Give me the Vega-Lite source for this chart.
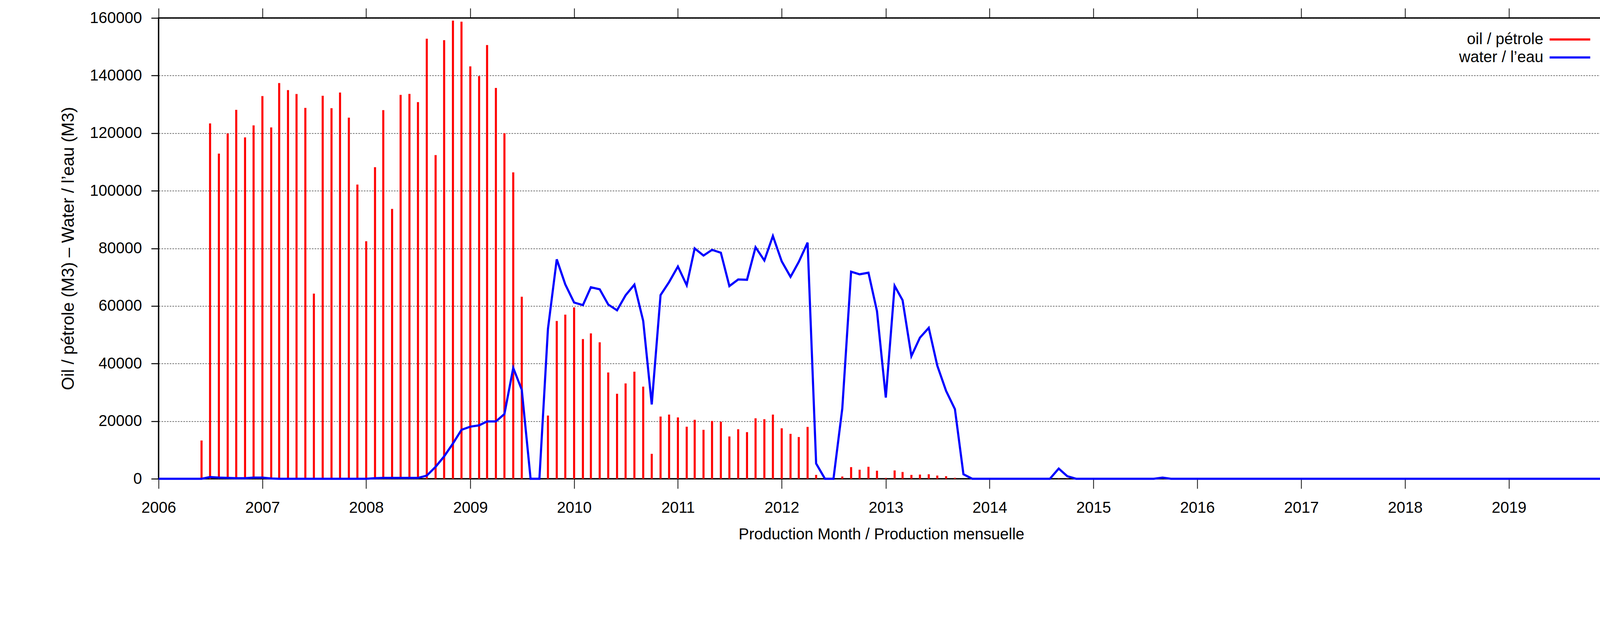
{
  "$schema": "https://vega.github.io/schema/vega-lite/v6.json",
  "width": 3700,
  "height": 1179,
  "autosize": {"type": "none"},
  "padding": {"left": 406, "top": 46, "right": 82, "bottom": 369},
  "background": "white",
  "data": {
    "format": {"parse": {"m": "date:'%Y-%m'"}},
    "values": [
      {"m": "2006-01", "oil": 0, "water": 0},
      {"m": "2006-02", "oil": 0, "water": 0},
      {"m": "2006-03", "oil": 0, "water": 0},
      {"m": "2006-04", "oil": 0, "water": 0},
      {"m": "2006-05", "oil": 0, "water": 0},
      {"m": "2006-06", "oil": 13300, "water": 0},
      {"m": "2006-07", "oil": 123400, "water": 600},
      {"m": "2006-08", "oil": 112900, "water": 400},
      {"m": "2006-09", "oil": 119900, "water": 300},
      {"m": "2006-10", "oil": 128100, "water": 200},
      {"m": "2006-11", "oil": 118550, "water": 200},
      {"m": "2006-12", "oil": 122700, "water": 400},
      {"m": "2007-01", "oil": 132900, "water": 400},
      {"m": "2007-02", "oil": 122000, "water": 100},
      {"m": "2007-03", "oil": 137400, "water": 0},
      {"m": "2007-04", "oil": 134960, "water": 0},
      {"m": "2007-05", "oil": 133600, "water": 0},
      {"m": "2007-06", "oil": 128800, "water": 0},
      {"m": "2007-07", "oil": 64300, "water": 0},
      {"m": "2007-08", "oil": 133000, "water": 0},
      {"m": "2007-09", "oil": 128700, "water": 0},
      {"m": "2007-10", "oil": 134100, "water": 0},
      {"m": "2007-11", "oil": 125400, "water": 0},
      {"m": "2007-12", "oil": 102150, "water": 0},
      {"m": "2008-01", "oil": 82460, "water": 0},
      {"m": "2008-02", "oil": 108200, "water": 200},
      {"m": "2008-03", "oil": 128000, "water": 300},
      {"m": "2008-04", "oil": 93700, "water": 300},
      {"m": "2008-05", "oil": 133300, "water": 300},
      {"m": "2008-06", "oil": 133650, "water": 300},
      {"m": "2008-07", "oil": 130800, "water": 300},
      {"m": "2008-08", "oil": 152800, "water": 1100},
      {"m": "2008-09", "oil": 112400, "water": 4160},
      {"m": "2008-10", "oil": 152300, "water": 7760},
      {"m": "2008-11", "oil": 159100, "water": 12260},
      {"m": "2008-12", "oil": 158700, "water": 17000},
      {"m": "2009-01", "oil": 143200, "water": 18100},
      {"m": "2009-02", "oil": 139800, "water": 18560},
      {"m": "2009-03", "oil": 150600, "water": 19900},
      {"m": "2009-04", "oil": 135700, "water": 19900},
      {"m": "2009-05", "oil": 120000, "water": 22500},
      {"m": "2009-06", "oil": 106400, "water": 38500},
      {"m": "2009-07", "oil": 63200, "water": 30900},
      {"m": "2009-08", "oil": 0, "water": 0},
      {"m": "2009-09", "oil": 0, "water": 0},
      {"m": "2009-10", "oil": 21940, "water": 52000},
      {"m": "2009-11", "oil": 54800, "water": 76200},
      {"m": "2009-12", "oil": 57000, "water": 67500},
      {"m": "2010-01", "oil": 59500, "water": 61200},
      {"m": "2010-02", "oil": 48500, "water": 60300},
      {"m": "2010-03", "oil": 50500, "water": 66500},
      {"m": "2010-04", "oil": 47400, "water": 65800},
      {"m": "2010-05", "oil": 36900, "water": 60500},
      {"m": "2010-06", "oil": 29500, "water": 58500},
      {"m": "2010-07", "oil": 33100, "water": 63700},
      {"m": "2010-08", "oil": 37200, "water": 67400},
      {"m": "2010-09", "oil": 32000, "water": 54800},
      {"m": "2010-10", "oil": 8660, "water": 25800},
      {"m": "2010-11", "oil": 21600, "water": 63800},
      {"m": "2010-12", "oil": 22300, "water": 68300},
      {"m": "2011-01", "oil": 21300, "water": 73700},
      {"m": "2011-02", "oil": 18100, "water": 67200},
      {"m": "2011-03", "oil": 20500, "water": 80000},
      {"m": "2011-04", "oil": 17000, "water": 77500},
      {"m": "2011-05", "oil": 20100, "water": 79500},
      {"m": "2011-06", "oil": 19800, "water": 78500},
      {"m": "2011-07", "oil": 14700, "water": 66900},
      {"m": "2011-08", "oil": 17200, "water": 69200},
      {"m": "2011-09", "oil": 16200, "water": 69100},
      {"m": "2011-10", "oil": 21000, "water": 80400},
      {"m": "2011-11", "oil": 20700, "water": 75800},
      {"m": "2011-12", "oil": 22300, "water": 84300},
      {"m": "2012-01", "oil": 17550, "water": 75500},
      {"m": "2012-02", "oil": 15600, "water": 70100},
      {"m": "2012-03", "oil": 14500, "water": 75300},
      {"m": "2012-04", "oil": 18000, "water": 82000},
      {"m": "2012-05", "oil": 1350, "water": 5300},
      {"m": "2012-06", "oil": 0, "water": 0},
      {"m": "2012-07", "oil": 0, "water": 0},
      {"m": "2012-08", "oil": 790, "water": 24400},
      {"m": "2012-09", "oil": 4050, "water": 71900},
      {"m": "2012-10", "oil": 3150, "water": 71000},
      {"m": "2012-11", "oil": 4160, "water": 71550},
      {"m": "2012-12", "oil": 2800, "water": 58200},
      {"m": "2013-01", "oil": 300, "water": 28200},
      {"m": "2013-02", "oil": 2900, "water": 67000},
      {"m": "2013-03", "oil": 2360, "water": 62000},
      {"m": "2013-04", "oil": 1350, "water": 42600},
      {"m": "2013-05", "oil": 1460, "water": 49000},
      {"m": "2013-06", "oil": 1575, "water": 52400},
      {"m": "2013-07", "oil": 1125, "water": 39300},
      {"m": "2013-08", "oil": 900, "water": 30500},
      {"m": "2013-09", "oil": 340, "water": 24200},
      {"m": "2013-10", "oil": 0, "water": 1575},
      {"m": "2013-11", "oil": 0, "water": 0},
      {"m": "2013-12", "oil": 0, "water": 0},
      {"m": "2014-01", "oil": 0, "water": 0},
      {"m": "2014-02", "oil": 0, "water": 0},
      {"m": "2014-03", "oil": 0, "water": 0},
      {"m": "2014-04", "oil": 0, "water": 0},
      {"m": "2014-05", "oil": 0, "water": 0},
      {"m": "2014-06", "oil": 0, "water": 0},
      {"m": "2014-07", "oil": 0, "water": 0},
      {"m": "2014-08", "oil": 0, "water": 0},
      {"m": "2014-09", "oil": 100, "water": 3540},
      {"m": "2014-10", "oil": 80, "water": 900},
      {"m": "2014-11", "oil": 0, "water": 0},
      {"m": "2014-12", "oil": 0, "water": 0},
      {"m": "2015-01", "oil": 0, "water": 0},
      {"m": "2015-02", "oil": 0, "water": 0},
      {"m": "2015-03", "oil": 0, "water": 0},
      {"m": "2015-04", "oil": 0, "water": 0},
      {"m": "2015-05", "oil": 0, "water": 0},
      {"m": "2015-06", "oil": 0, "water": 0},
      {"m": "2015-07", "oil": 0, "water": 0},
      {"m": "2015-08", "oil": 0, "water": 0},
      {"m": "2015-09", "oil": 0, "water": 400},
      {"m": "2015-10", "oil": 0, "water": 0},
      {"m": "2015-11", "oil": 0, "water": 0},
      {"m": "2015-12", "oil": 0, "water": 0},
      {"m": "2016-01", "oil": 0, "water": 0},
      {"m": "2016-02", "oil": 0, "water": 0},
      {"m": "2016-03", "oil": 0, "water": 0},
      {"m": "2016-04", "oil": 0, "water": 0},
      {"m": "2016-05", "oil": 0, "water": 0},
      {"m": "2016-06", "oil": 0, "water": 0},
      {"m": "2016-07", "oil": 0, "water": 0},
      {"m": "2016-08", "oil": 0, "water": 0},
      {"m": "2016-09", "oil": 0, "water": 0},
      {"m": "2016-10", "oil": 0, "water": 0},
      {"m": "2016-11", "oil": 0, "water": 0},
      {"m": "2016-12", "oil": 0, "water": 0},
      {"m": "2017-01", "oil": 0, "water": 0},
      {"m": "2017-02", "oil": 0, "water": 0},
      {"m": "2017-03", "oil": 0, "water": 0},
      {"m": "2017-04", "oil": 0, "water": 0},
      {"m": "2017-05", "oil": 0, "water": 0},
      {"m": "2017-06", "oil": 0, "water": 0},
      {"m": "2017-07", "oil": 0, "water": 0},
      {"m": "2017-08", "oil": 0, "water": 0},
      {"m": "2017-09", "oil": 0, "water": 0},
      {"m": "2017-10", "oil": 0, "water": 0},
      {"m": "2017-11", "oil": 0, "water": 0},
      {"m": "2017-12", "oil": 0, "water": 0},
      {"m": "2018-01", "oil": 0, "water": 0},
      {"m": "2018-02", "oil": 0, "water": 0},
      {"m": "2018-03", "oil": 0, "water": 0},
      {"m": "2018-04", "oil": 0, "water": 0},
      {"m": "2018-05", "oil": 0, "water": 0},
      {"m": "2018-06", "oil": 0, "water": 0},
      {"m": "2018-07", "oil": 0, "water": 0},
      {"m": "2018-08", "oil": 0, "water": 0},
      {"m": "2018-09", "oil": 0, "water": 0},
      {"m": "2018-10", "oil": 0, "water": 0},
      {"m": "2018-11", "oil": 0, "water": 0},
      {"m": "2018-12", "oil": 0, "water": 0},
      {"m": "2019-01", "oil": 0, "water": 0},
      {"m": "2019-02", "oil": 0, "water": 0},
      {"m": "2019-03", "oil": 0, "water": 0},
      {"m": "2019-04", "oil": 0, "water": 0},
      {"m": "2019-05", "oil": 0, "water": 0},
      {"m": "2019-06", "oil": 0, "water": 0},
      {"m": "2019-07", "oil": 0, "water": 0},
      {"m": "2019-08", "oil": 0, "water": 0},
      {"m": "2019-09", "oil": 0, "water": 0},
      {"m": "2019-10", "oil": 0, "water": 0},
      {"m": "2019-11", "oil": 0, "water": 0},
      {"m": "2019-12", "oil": 0, "water": 0}
    ]
  },
  "layer": [
    {
      "mark": {"type": "rule", "strokeWidth": 5.3, "strokeCap": "butt"},
      "encoding": {
        "x": {
          "field": "m",
          "type": "temporal",
          "scale": {
            "domain": [
              {"year": 2006, "month": 1, "date": 1},
              {"year": 2019, "month": 12, "date": 1}
            ],
            "nice": false
          },
          "axis": {
            "orient": "bottom",
            "title": "Production Month / Production mensuelle",
            "format": "%Y",
            "tickCount": {"interval": "year", "step": 1},
            "labelPadding": 29,
            "titlePadding": 28,
            "titleFontSize": 40,
            "grid": false
          }
        },
        "y": {
          "field": "oil",
          "type": "quantitative",
          "scale": {"domain": [0, 160000], "nice": false},
          "axis": {
            "orient": "left",
            "title": "Oil / pétrole (M3) – Water / l’eau (M3)",
            "format": "d",
            "values": [0, 20000, 40000, 60000, 80000, 100000, 120000, 140000, 160000],
            "labelPadding": 24,
            "titlePadding": 32,
            "titleFontSize": 44,
            "grid": true,
            "gridColor": "#000",
            "gridOpacity": 0.75,
            "gridWidth": 1.3,
            "gridDash": [4, 3]
          }
        },
        "y2": {"datum": 0},
        "color": {
          "datum": "oil / pétrole",
          "scale": {
            "domain": ["oil / pétrole", "water / l’eau"],
            "range": ["#ff0000", "#0000ff"]
          },
          "legend": {
            "orient": "none",
            "legendX": 3593,
            "legendY": 35,
            "title": null,
            "padding": 0,
            "rowPadding": 6,
            "symbolType": "M-4,0H4",
            "symbolSize": 676,
            "symbolStrokeWidth": 5.5,
            "labelAlign": "right",
            "labelOffset": -88,
            "labelFont": "Liberation Sans",
            "labelFontSize": 40,
            "labelColor": "#000",
            "labelLimit": 1000,
            "encode": {
              "symbols": {
                "update": {
                  "stroke": {"scale": "color", "field": "value"},
                  "fill": {"value": "transparent"},
                  "strokeWidth": {"value": 5.5}
                }
              }
            }
          }
        }
      }
    },
    {
      "mark": {"type": "line", "strokeWidth": 5.5},
      "encoding": {
        "x": {
          "field": "m",
          "type": "temporal",
          "axis": {
            "orient": "top",
            "title": null,
            "labels": false,
            "tickCount": {"interval": "year", "step": 1},
            "grid": false
          }
        },
        "y": {
          "field": "water",
          "type": "quantitative",
          "scale": {"domain": [0, 160000], "nice": false},
          "axis": {
            "orient": "right",
            "title": null,
            "labels": false,
            "values": [0, 20000, 40000, 60000, 80000, 100000, 120000, 140000, 160000],
            "grid": false
          }
        },
        "color": {"datum": "water / l’eau"}
      }
    }
  ],
  "resolve": {"axis": {"x": "independent", "y": "independent"}},
  "config": {
    "view": {"stroke": "#000", "strokeWidth": 3.5},
    "axis": {
      "domain": false,
      "ticks": true,
      "tickColor": "#000",
      "labelFont": "Liberation Sans",
      "labelFontSize": 40,
      "labelColor": "#000",
      "labelFlush": false,
      "labelOverlap": false,
      "titleFont": "Liberation Sans",
      "titleFontWeight": "normal",
      "titleColor": "#000"
    },
    "axisX": {"tickSize": 25, "tickWidth": 1.9},
    "axisY": {"tickSize": 19, "tickWidth": 2.5}
  }
}
